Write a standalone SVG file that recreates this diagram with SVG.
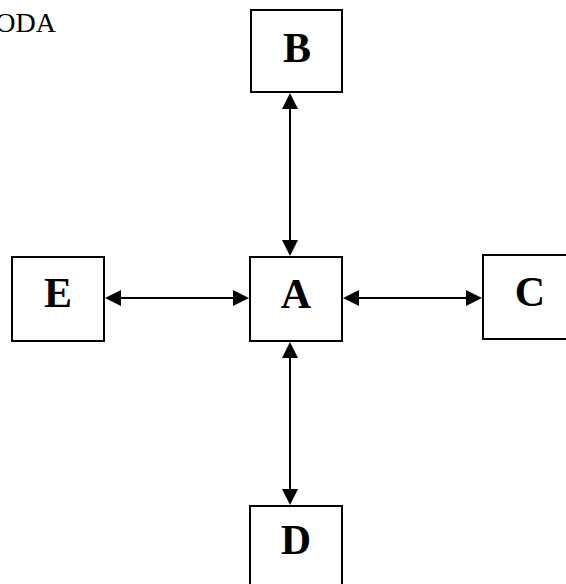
<svg xmlns="http://www.w3.org/2000/svg" width="566" height="584" viewBox="0 0 566 584">
  <style>
    .box { fill: #fff; stroke: #000; stroke-width: 2; }
    .lbl { font-family: "Liberation Serif", "Times New Roman", serif; font-weight: bold; font-size: 42px; fill: #000; text-anchor: middle; }
    .cap { font-family: "Liberation Serif", "Times New Roman", serif; font-size: 28px; fill: #000; }
    .link { stroke: #000; stroke-width: 2; fill: none; marker-start: url(#head); marker-end: url(#head); }
  </style>
  <defs>
    <marker id="head" markerUnits="userSpaceOnUse" markerWidth="17" markerHeight="16" refX="12" refY="8" orient="auto-start-reverse">
      <path d="M0,0 L16,8 L0,16 z" fill="#000"/>
    </marker>
  </defs>
  <rect width="566" height="584" fill="#fff"/>

  <text class="cap" x="56" y="32" text-anchor="end">ODA</text>

  <g id="connectors">
    <line class="link" x1="290" y1="97" x2="290" y2="252"/>
    <line class="link" x1="290" y1="346" x2="290" y2="501"/>
    <line class="link" x1="109" y1="298" x2="245" y2="298"/>
    <line class="link" x1="347" y1="298" x2="478" y2="298"/>
  </g>

  <g id="node-B">
    <rect class="box" x="251" y="10" width="91" height="82"/>
    <text class="lbl" x="297" y="62">B</text>
  </g>
  <g id="node-A">
    <rect class="box" x="250" y="257" width="92" height="84"/>
    <text class="lbl" x="296" y="308">A</text>
  </g>
  <g id="node-E">
    <rect class="box" x="12" y="257" width="92" height="84"/>
    <text class="lbl" x="58" y="307">E</text>
  </g>
  <g id="node-C">
    <rect class="box" x="483" y="255" width="92" height="84"/>
    <text class="lbl" x="530" y="306">C</text>
  </g>
  <g id="node-D">
    <rect class="box" x="250" y="506" width="92" height="84"/>
    <text class="lbl" x="296" y="554">D</text>
  </g>
</svg>
